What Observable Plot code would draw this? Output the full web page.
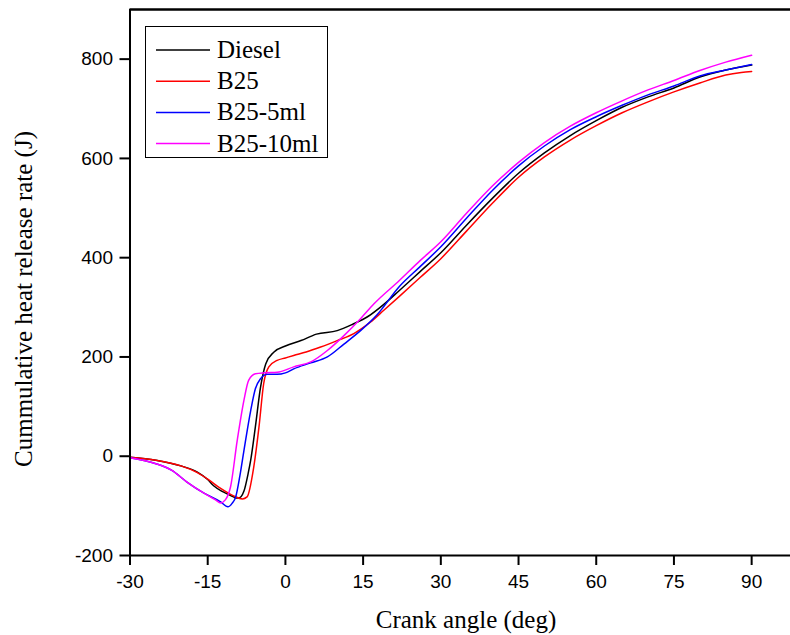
<!DOCTYPE html>
<html><head><meta charset="utf-8">
<script src="https://cdn.jsdelivr.net/npm/d3@7"></script>
<script src="https://cdn.jsdelivr.net/npm/@observablehq/plot@0.6"></script>
<style>
body{margin:0;background:#fff}
#chart{position:relative;width:790px;height:635px}
</style>
</head><body><div id="chart"></div>
<script>
const seriesNames = ["Diesel", "B25", "B25-5ml", "B25-10ml"];
const seriesColors = ["#000000", "#ff0000", "#0000ff", "#ff00ff"];

const dieselX = [-30,-25,-20,-17,-15,-13.8,-12,-10,-9.6,-9,-8,-7.2,-6.7,-5.8,-4.8,-3.8,-2.2,0,3,6,10,13,16,19,22,26,30,35,40,45,50,55,60,65,70,75,80,85,90];
const dieselY = [-2,-8,-20,-32,-47,-60,-72,-82,-84,-84,-70,-35,-8,59,139,186,210,222,233,246,253,266,282,306,334,372,410,466,520,570,611,646,676,703,724,742,764,778,788];

const b25X = [-30,-25,-20,-17,-15,-12.5,-10,-8.3,-7.4,-6.1,-5.1,-4.2,-3.2,-1.6,0,1.6,4,6.8,10,13.2,16.4,19,22,26,30,35,40,45,50,55,60,65,70,75,80,85,88,90];
const b25Y = [-2,-8,-20,-33,-46,-65,-80,-86,-82,-21,59,146,180,193,198,203,210,220,233,247,270,294,322,360,398,454,510,562,603,637,666,692,714,734,752,768,773,775];

const b25_5X = [-30,-25,-22,-19,-15.8,-12.5,-11.1,-10.3,-9.6,-8.8,-8,-6.7,-5.8,-4.8,-3.5,-1.6,0,1.6,4.9,8.1,11.3,14.5,17.7,22,26,30,35,40,45,50,55,60,65,70,75,80,85,90];
const b25_5Y = [-3,-15,-28,-52,-74,-92,-102,-95,-82,-40,12,92,136,156,165,165,168,176,188,200,226,253,285,342,382,422,480,536,585,625,658,684,707,728,746,766,778,789];

const b25_10X = [-30,-25,-22,-19,-15.8,-13.5,-12.5,-11.6,-10.6,-9.3,-8,-7.1,-5.8,-4,-1.6,1.6,4.9,8.1,11.3,14.5,17.1,22,26,30,35,40,45,50,55,60,65,70,75,80,85,90];
const b25_10Y = [-3,-15,-28,-52,-74,-88,-94,-88,-62,32,113,153,166,168,169,180,190,213,243,277,307,354,394,432,490,545,592,632,665,692,716,738,757,777,794,808];

const xTicks = [-30,-15,0,15,30,45,60,75,90];
const yTicks = [-200,0,200,400,600,800];
const xDomain = [-30, 97.5];
const yDomain = [-200, 900];
const xTitle = "Crank angle (deg)";
const yTitle = "Cummulative heat release rate (J)";

const allX = [dieselX, b25X, b25_5X, b25_10X];
const allY = [dieselY, b25Y, b25_5Y, b25_10Y];
const data = [];
seriesNames.forEach((name, i) => {
  allX[i].forEach((x, j) => data.push({series: name, x, y: allY[i][j]}));
});

const serif = "'Liberation Serif', 'Times New Roman', serif";
const sans = "'Liberation Sans', Arial, sans-serif";

const plot = Plot.plot({
  width: 790, height: 635,
  marginLeft: 129.5, marginRight: 0, marginTop: 9, marginBottom: 80,
  style: {fontFamily: sans, fontSize: "19px", background: "white", overflow: "visible"},
  x: {domain: xDomain},
  y: {domain: yDomain},
  color: {domain: seriesNames, range: seriesColors},
  marks: [
    Plot.axisX({ticks: xTicks, tickSize: 10, tickPadding: 9, tickFormat: d => String(d), label: null, strokeWidth: 2, fontSize: 19, fill: "#000", color: "#000"}),
    Plot.axisY({ticks: yTicks, tickSize: 10, tickPadding: 7, tickFormat: d => String(d), label: null, strokeWidth: 2, fontSize: 19, fill: "#000", color: "#000"}),
    Plot.line(data, {x: "x", y: "y", z: "series", stroke: "series", strokeWidth: 1.5, curve: "monotone-x"}),
    Plot.ruleX([xDomain[0]], {stroke: "#000", strokeWidth: 2}),
    Plot.ruleY([yDomain[0]], {stroke: "#000", strokeWidth: 2}),
    Plot.ruleY([yDomain[1]], {stroke: "#000", strokeWidth: 2.5})
  ]
});

const svg = d3.select(plot);
svg.append("text")
  .attr("x", 466).attr("y", 628)
  .attr("text-anchor", "middle")
  .attr("font-family", serif).attr("font-size", 25).attr("fill", "#000")
  .text(xTitle);
svg.append("text")
  .attr("transform", "translate(32,299) rotate(-90)")
  .attr("text-anchor", "middle")
  .attr("font-family", serif).attr("font-size", 25).attr("fill", "#000")
  .text(yTitle);

const lg = svg.append("g");
lg.append("rect").attr("x", 145.5).attr("y", 26.5).attr("width", 182).attr("height", 131)
  .attr("fill", "white").attr("stroke", "#000").attr("stroke-width", 1);
seriesNames.forEach((name, i) => {
  const cy = 50 + i * 31.2;
  lg.append("line").attr("x1", 156).attr("x2", 210).attr("y1", cy).attr("y2", cy)
    .attr("stroke", seriesColors[i]).attr("stroke-width", 1.5);
  lg.append("text").attr("x", 217).attr("y", cy + 8)
    .attr("text-anchor", "start")
    .attr("font-family", serif).attr("font-size", 25).attr("fill", "#000")
    .text(name);
});

document.getElementById("chart").appendChild(plot);
</script>
</body></html>
